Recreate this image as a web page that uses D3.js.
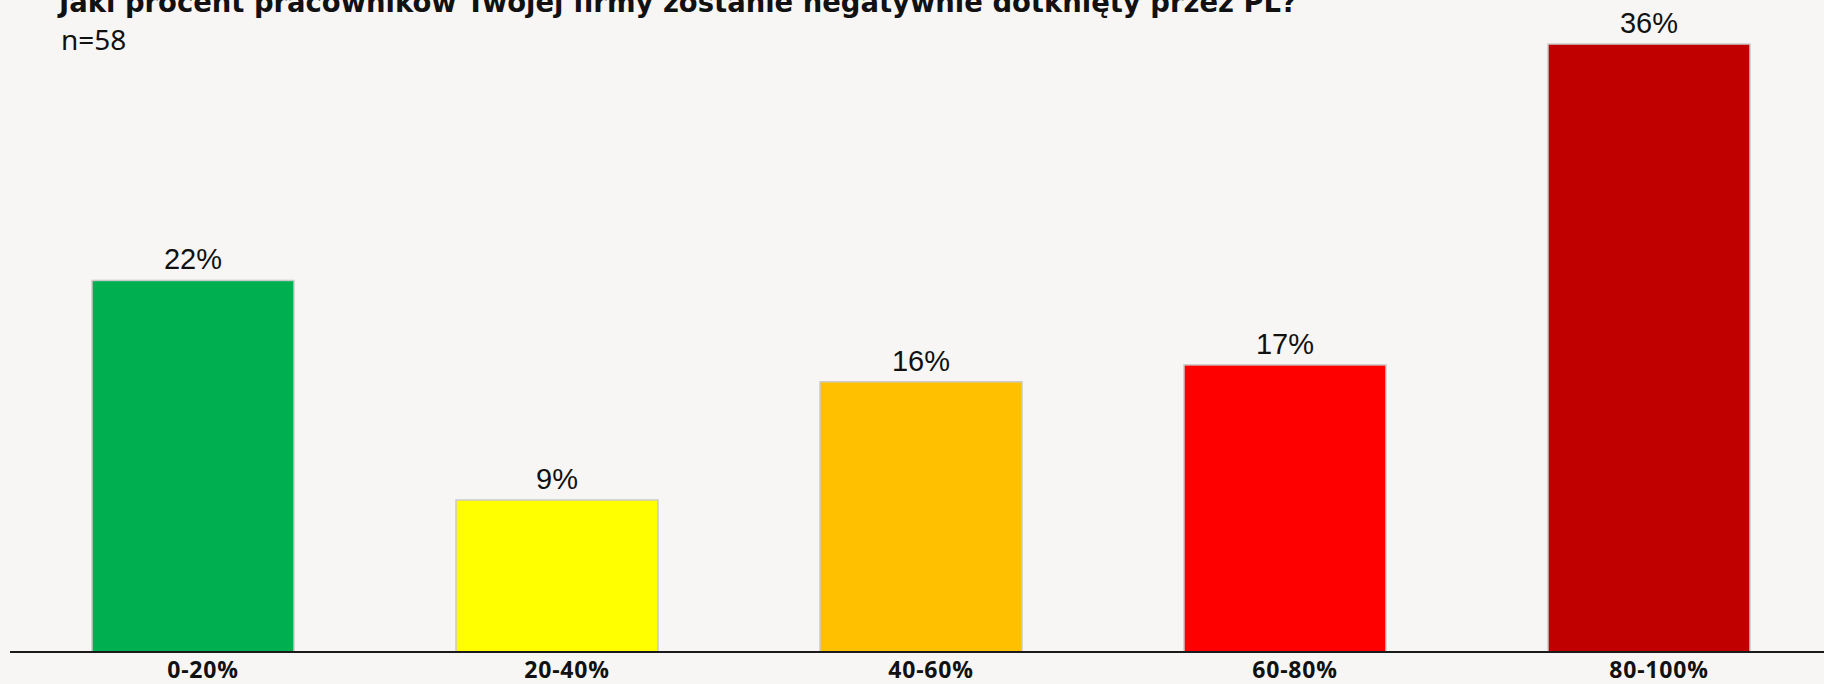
<!DOCTYPE html>
<html>
<head>
<meta charset="utf-8">
<script src="https://cdn.jsdelivr.net/npm/d3@7"></script>
<style>
  html, body { margin: 0; padding: 0; background: #f7f6f4; overflow: hidden; }
  svg { display: block; }
</style>
</head>
<body>
<svg id="chart"></svg>
<script>
// data
var categories = ["0-20%", "20-40%", "40-60%", "60-80%", "80-100%"];
var values = [22, 9, 16, 17, 36];
var colors = ["#00b050", "#ffff00", "#ffc000", "#ff0000", "#c00000"];
var title = "Jaki procent pracowników Twojej firmy zostanie negatywnie dotknięty przez PL?";
var subtitle = "n=58";

var dd = {
    width: 1824,
    height: 684,
    baseline: 652,
    top: 44
}

var svg = d3.select("#chart")
    .attr("width", dd.width)
    .attr("height", dd.height)

var data = categories.map(function(c, i) { return { cat: c, val: values[i], color: colors[i] }; });

var xScale = d3.scaleBand().domain(categories).range([11, 1831]).paddingInner(0.445).paddingOuter(0.2225),
    yScale = d3.scaleLinear().domain([0, d3.max(values)]).range([dd.baseline, dd.top]);

// bars
svg.selectAll(".bar")
    .data(data)
    .enter().append("rect")
    .attr("class", "bar")
    .attr("x", function(d) { return xScale(d.cat); })
    .attr("y", function(d) { return yScale(d.val); })
    .attr("width", xScale.bandwidth())
    .attr("height", function(d) { return dd.baseline - yScale(d.val); })
    .attr("fill", function(d) { return d.color; })
    .attr("stroke", "#cbcbcb")
    .attr("stroke-width", 1.5);

// value labels
svg.selectAll(".val")
    .data(data)
    .enter().append("text")
    .attr("class", "val")
    .attr("x", function(d) { return xScale(d.cat) + xScale.bandwidth() / 2; })
    .attr("y", function(d) { return yScale(d.val) - 11; })
    .attr("text-anchor", "middle")
    .attr("font-family", "Liberation Sans, Arial, sans-serif")
    .attr("font-size", 29)
    .attr("fill", "#111")
    .text(function(d) { return d.val + "%"; });

// x axis
var xAxisGen = d3.axisBottom(xScale).tickSize(0).tickPadding(0);
var xAxis = svg.append("g")
    .attr("transform", "translate(0," + dd.baseline + ")")
    .call(xAxisGen);
xAxis.select(".domain").remove();
xAxis.append("line")
    .attr("x1", 10).attr("x2", dd.width)
    .attr("y1", 0).attr("y2", 0)
    .attr("stroke", "#1a1a1a")
    .attr("stroke-width", 2);
xAxis.selectAll(".tick text")
    .attr("dx", 10)
    .attr("dy", 0)
    .attr("y", 26)
    .attr("font-family", "Open Sans, sans-serif")
    .attr("font-weight", 700)
    .attr("font-size", 23)
    .attr("letter-spacing", 0.8)
    .attr("fill", "#111");

// titles
svg.append("text")
    .attr("x", 59)
    .attr("y", 12)
    .attr("font-family", "DejaVu Sans, sans-serif")
    .attr("font-weight", "bold")
    .attr("font-size", 28)
    .attr("textLength", 1238)
    .attr("lengthAdjust", "spacingAndGlyphs")
    .attr("fill", "#111")
    .text(title);

svg.append("text")
    .attr("x", 61)
    .attr("y", 50)
    .attr("font-family", "Noto Sans, sans-serif")
    .attr("font-size", 28)
    .attr("fill", "#111")
    .text(subtitle);
</script>
</body>
</html>
